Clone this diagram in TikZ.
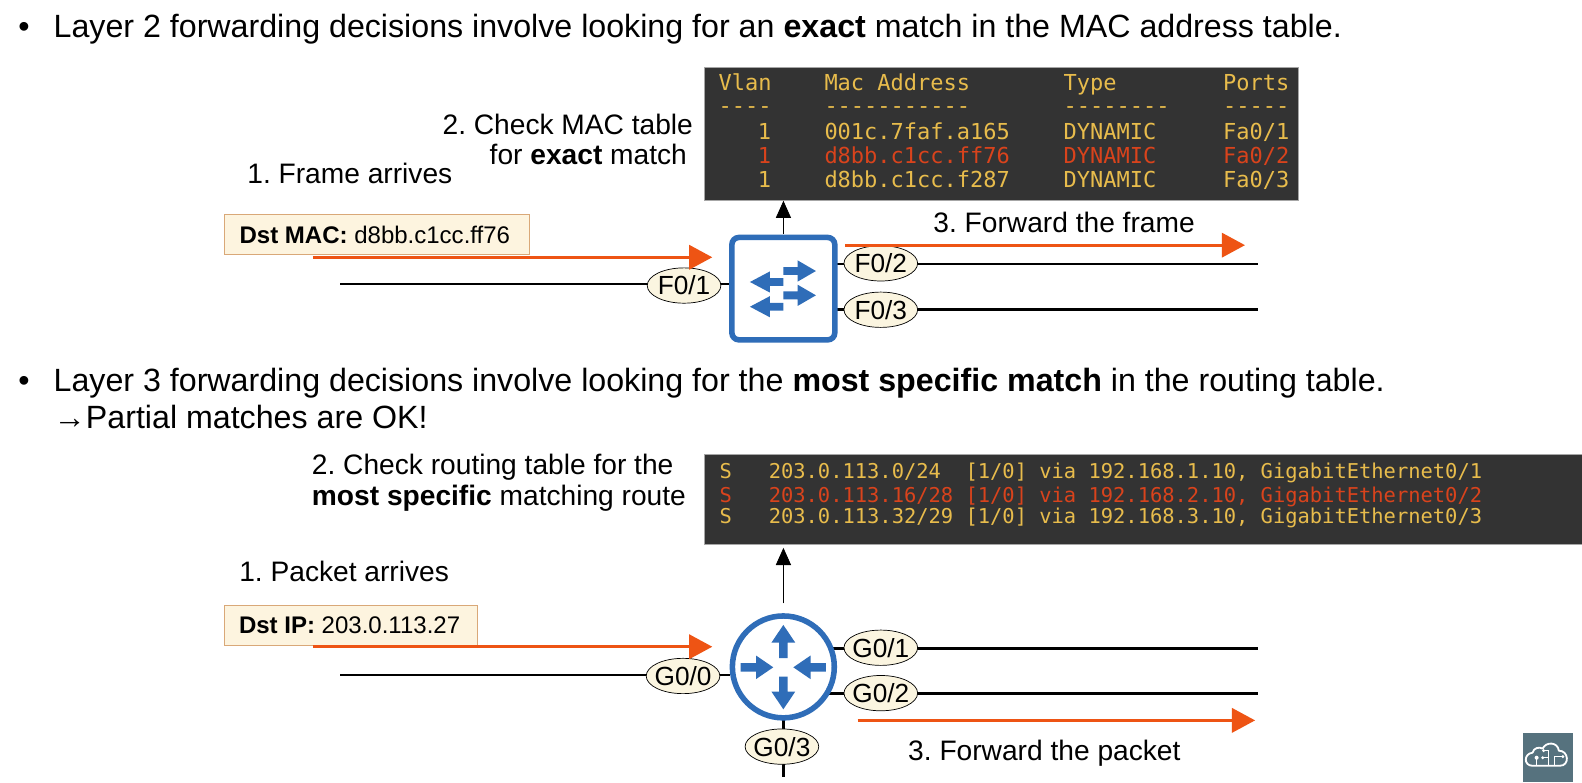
\documentclass[tikz,border=0pt]{standalone}
\usepackage{fontspec}
\setmainfont{Liberation Sans}
\newfontfamily\tblfont{DejaVu Sans Mono}
\frenchspacing
\definecolor{swblue}{HTML}{2F6DB8}
\definecolor{hot}{HTML}{EE5414}
\definecolor{termbg}{HTML}{333333}
\definecolor{termy}{HTML}{E8BC4C}
\definecolor{termr}{HTML}{D9431C}
\definecolor{cream}{HTML}{FBF5E0}
\definecolor{framefill}{HTML}{FDF4DF}
\definecolor{frameline}{HTML}{D9A878}
\definecolor{logobg}{HTML}{56727E}
\newcommand\portlab[1]{\makebox[0pt]{\smash{\raisebox{-.36em}{#1}}}}
\usetikzlibrary{arrows.meta,shapes.geometric,calc}
\tikzset{
  x=1pt,y=-1pt,
  big/.style={anchor=base west,inner sep=0pt,font=\fontsize{31.9}{34}\selectfont},
  lab/.style={anchor=base west,inner sep=0pt,font=\fontsize{27.9}{30}\selectfont},
  labr/.style={anchor=base east,inner sep=0pt,font=\fontsize{27.9}{30}\selectfont},
  port/.style={ellipse,draw=black,line width=.7pt,fill=cream,inner sep=0pt,minimum width=73pt,minimum height=35pt,font=\fontsize{26}{30}\selectfont},
  wire/.style={line width=2.6pt,black},
  hotarrow/.style={line width=3pt,hot,-{Triangle[length=23pt,width=24pt]}},
  upflow/.style={line width=.8pt,black,-{Triangle[length=17pt,width=15pt]}},
  framebox/.style={rectangle,draw=frameline,fill=framefill,line width=1pt,inner sep=0pt,anchor=north west,font=\fontsize{23.8}{26}\selectfont},
  term/.style={rectangle,fill=termbg,draw=black!35,line width=.6pt,anchor=north west,inner sep=0pt},
  ty/.style={anchor=base west,inner sep=0pt,text=termy,font=\tblfont\fontsize{21.8}{24}\selectfont},
  tr/.style={ty,text=termr},
  ry/.style={anchor=base west,inner sep=0pt,text=termy,font=\tblfont\fontsize{20.25}{24}\selectfont},
  rr/.style={ry,text=termr},
  devarrow/.style={fill=swblue,draw=none},
}
\begin{document}
\begin{tikzpicture}
\useasboundingbox (0,0) rectangle (1568,776);
\fill[white] (0,0) rectangle (1568,776);

% headings
\node[big] (b1) at (18,37) {•};
\node[big] (h1) at (53,37) {Layer 2 forwarding decisions involve looking for an \textbf{exact} match in the MAC address table.};
\node[big] (b2) at (18,388) {•};
\node[big] (h2) at (53,388) {Layer 3 forwarding decisions involve looking for the \textbf{most specific match} in the routing table.};
\node[big] (h3) at (53,425) {\makebox[32pt][l]{\fontsize{32}{34}\selectfont →}Partial matches are OK!};

% MAC table
\node[term,minimum width=588pt,minimum height=132pt] (mac) at (698,66) {};
\node[ty] (m1) at (712,90) {Vlan};
\node[ty] (m2) at (817,90) {Mac Address};
\node[ty] (m3) at (1054,90) {Type};
\node[ty] (m4) at (1212,90) {Ports};
\node[ty] (d1) at (712,112) {----};
\node[ty] (d2) at (817,112) {-----------};
\node[ty] (d3) at (1054,112) {--------};
\node[ty] (d4) at (1212,112) {-----};
\node[ty] (a1) at (751,138) {1};
\node[ty] (a2) at (817,138) {001c.7faf.a165};
\node[ty] (a3) at (1054,138) {DYNAMIC};
\node[ty] (a4) at (1212,138) {Fa0/1};
\node[tr] (e1) at (751,162) {1};
\node[tr] (e2) at (817,162) {d8bb.c1cc.ff76};
\node[tr] (e3) at (1054,162) {DYNAMIC};
\node[tr] (e4) at (1212,162) {Fa0/2};
\node[ty] (c1) at (751,186) {1};
\node[ty] (c2) at (817,186) {d8bb.c1cc.f287};
\node[ty] (c3) at (1054,186) {DYNAMIC};
\node[ty] (c4) at (1212,186) {Fa0/3};

% Routing table
\node[term,minimum width=870pt,minimum height=89pt] (rib) at (698,450) {};
\node[ry] (r1) at (713,474) {S\ \ \ 203.0.113.0/24\ \ [1/0] via 192.168.1.10, GigabitEthernet0/1};
\node[rr] (r2) at (713,498) {S\ \ \ 203.0.113.16/28 [1/0] via 192.168.2.10, GigabitEthernet0/2};
\node[ry] (r3) at (713,519) {S\ \ \ 203.0.113.32/29 [1/0] via 192.168.3.10, GigabitEthernet0/3};

% labels, top
\node[labr] (t1) at (687,133) {2. Check MAC table};
\node[labr] (t2) at (681,163) {for \textbf{exact} match};
\node[lab] (t3) at (245,182) {1. Frame arrives};
\node[lab] (t4) at (925,230) {3. Forward the frame};
% labels, bottom
\node[lab] (u1) at (309,470) {2. Check routing table for the};
\node[lab] (u2) at (309,501) {\textbf{most specific} matching route};
\node[lab] (u3) at (237,576) {1. Packet arrives};
\node[lab] (u4) at (900,754) {3. Forward the packet};

% free ends
\coordinate (f1) at (337,281.5);
\coordinate (f2) at (1247,261.7);
\coordinate (f3) at (1247,306.7);
\coordinate (g0) at (337,669);
\coordinate (g1) at (1247,642.5);
\coordinate (g2) at (1247,687.3);
\coordinate (g3) at (776.5,770);
\coordinate (inA) at (310,255);
\coordinate (inAe) at (706,255);
\coordinate (outA) at (838,243);
\coordinate (outAe) at (1234,243);
\coordinate (inB) at (310,641);
\coordinate (inBe) at (706,641);
\coordinate (outB) at (850,714);
\coordinate (outBe) at (1244,714);
\coordinate (swu) at (776.5,232);
\coordinate (swt) at (776.5,199);
\coordinate (rtu) at (776.5,598);
\coordinate (rtt) at (776.5,543);
\coordinate (swr2) at (830,261.7);
\coordinate (swr3) at (830,306.7);
\coordinate (swl) at (724,281.5);
\coordinate (rtr1) at (820,642.5);
\coordinate (rtr2) at (818,687.3);
\coordinate (rtl) at (724,669);
\coordinate (rtb) at (776.5,710);

% wires
\draw[wire] (f1) -- (swl);
\draw[wire] (swr2) -- (f2);
\draw[wire] (swr3) -- (f3);
\draw[wire] (g0) -- (rtl);
\draw[wire] (rtr1) -- (g1);
\draw[wire] (rtr2) -- (g2);
\draw[wire] (rtb) -- (g3);

% devices
\node[rectangle,rounded corners=7pt,draw=swblue,fill=white,line width=5.5pt,minimum width=102pt,minimum height=101.5pt,inner sep=0pt] (sw) at (776.4,286.1) {};
\node[circle,draw=swblue,fill=white,line width=5.5pt,minimum size=101pt,inner sep=0pt] (rt) at (776.4,661) {};

% switch arrows
\foreach \yy in {268.6,292.7}{
  \fill[devarrow] (776.4,\yy-3.9) -- (790.6,\yy-3.9) -- (790.6,\yy-10.5) -- (808.7,\yy) -- (790.6,\yy+10.5) -- (790.6,\yy+3.9) -- (776.4,\yy+3.9) -- cycle;
}
\foreach \yy in {279.5,304}{
  \fill[devarrow] (776.4,\yy-3.9) -- (763.1,\yy-3.9) -- (763.1,\yy-10.5) -- (743.3,\yy) -- (763.1,\yy+10.5) -- (763.1,\yy+3.9) -- (776.4,\yy+3.9) -- cycle;
}
% router arrows
\fill[devarrow] (772.2,652.4) -- (772.2,636.9) -- (764.6,636.9) -- (776.4,619.4) -- (788.2,636.9) -- (780.6,636.9) -- (780.6,652.4) -- cycle;
\fill[devarrow] (772.2,670.6) -- (772.2,685.5) -- (764.6,685.5) -- (776.4,703) -- (788.2,685.5) -- (780.6,685.5) -- (780.6,670.6) -- cycle;
\fill[devarrow] (734.1,657.2) -- (749.3,657.2) -- (749.3,649.7) -- (766.4,661.4) -- (749.3,673.1) -- (749.3,665.6) -- (734.1,665.6) -- cycle;
\fill[devarrow] (818.6,657.2) -- (803.4,657.2) -- (803.4,649.7) -- (786.3,661.4) -- (803.4,673.1) -- (803.4,665.6) -- (818.6,665.6) -- cycle;

% ports
\node[port] (pf1) at (678,283) {\portlab{F0/1}};
\node[port] (pf2) at (873,261) {\portlab{F0/2}};
\node[port] (pf3) at (873,307) {\portlab{F0/3}};
\node[port] (pg0) at (677,670) {\portlab{G0/0}};
\node[port] (pg1) at (873,642) {\portlab{G0/1}};
\node[port] (pg2) at (873,687) {\portlab{G0/2}};
\node[port] (pg3) at (775,740) {\portlab{G0/3}};

% frame boxes
\node[framebox,minimum width=302pt,minimum height=40pt] (fa) at (222,212) {\hspace*{-4pt}\textbf{Dst MAC:} d8bb.c1cc.ff76};
\node[framebox,minimum width=251pt,minimum height=39pt] (fb) at (222,600) {\hspace*{-3pt}\textbf{Dst IP:} 203.0.113.27};

% arrows
\draw[hotarrow] (inA) -- (inAe);
\draw[hotarrow] (outA) -- (outAe);
\draw[hotarrow] (inB) -- (inBe);
\draw[hotarrow] (outB) -- (outBe);
\draw[upflow] (swu) -- (swt);
\draw[upflow] (rtu) -- (rtt);

% logo
\node[rectangle,fill=logobg,minimum width=50pt,minimum height=49pt,inner sep=0pt,anchor=north west] (logo) at (1509,726) {};
\draw[white,line width=1.8pt,line join=round] (1519,759) .. controls (1510,759) and (1510,747) .. (1519,746) .. controls (1520,741) and (1526,740) .. (1529,742) .. controls (1532,735) and (1544,735) .. (1545,744) .. controls (1555,744) and (1556,759) .. (1546,759) -- cycle;
\draw[white,line width=1.2pt] (1523,759) -- (1523,752) (1535,759) -- (1535,744) -- (1530,744) (1541,759) -- (1541,750) -- (1549,750) (1535,751) -- (1529,751);
\fill[white] (1523,751) circle (2pt) (1530,744) circle (1.6pt) (1529,751) circle (1.6pt) (1549,750) circle (1.6pt);
\end{tikzpicture}
\end{document}
